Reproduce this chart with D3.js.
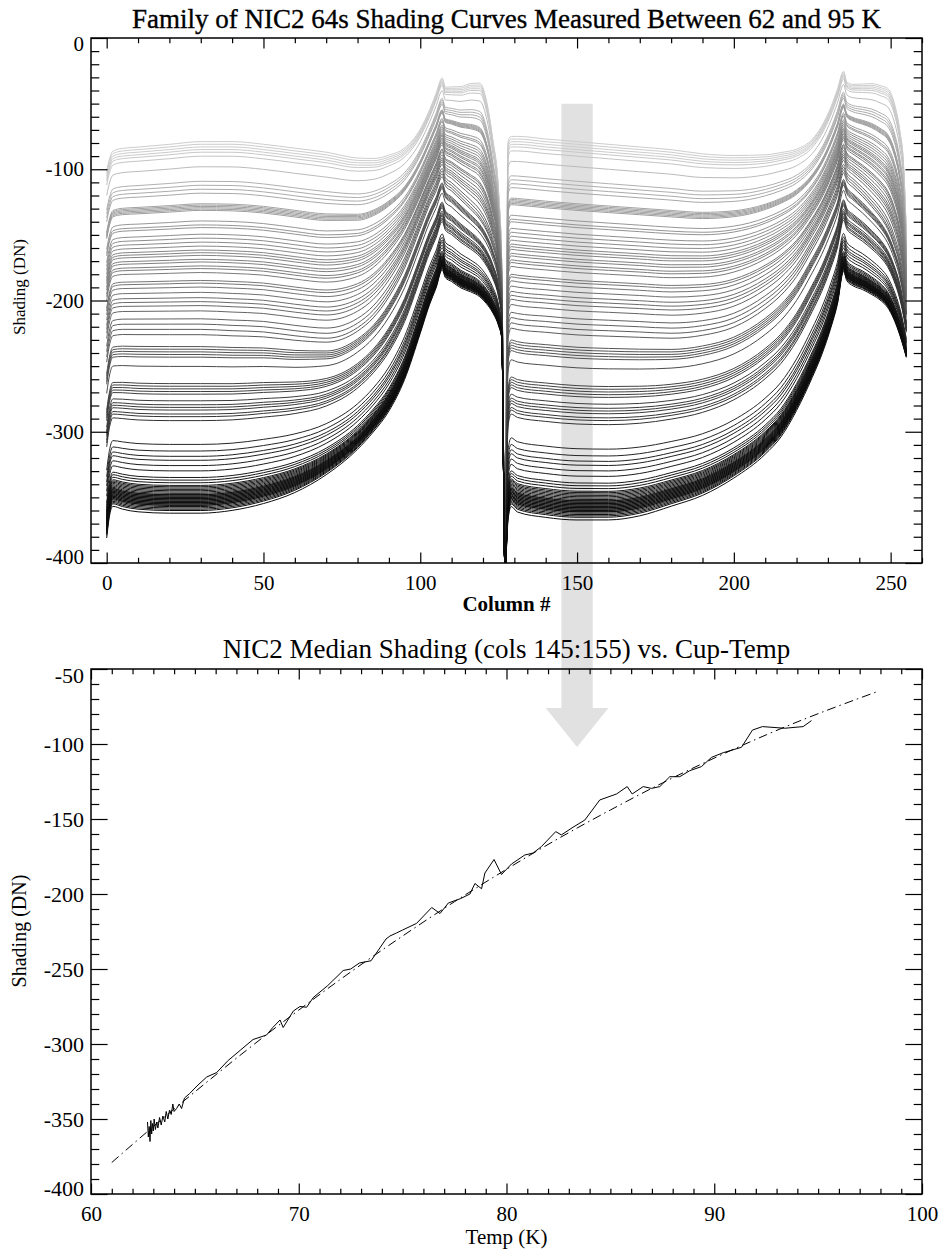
<!DOCTYPE html>
<html>
<head>
<meta charset="utf-8">
<script src="https://cdn.jsdelivr.net/npm/d3@7"></script>
<style>
body { margin: 0; background: #fff; }
text { font-family: "Liberation Serif", "Times New Roman", serif; fill: #000; }
</style>
</head>
<body>
<div id="chart"></div>
<script>
let profileCols = [0, 1, 2, 5, 10, 20, 30, 40, 50, 60, 70, 80, 85, 90, 95, 100, 103, 105, 107, 108, 110, 113, 116, 119, 121, 123, 125, 126, 127,
    128, 129, 131, 140, 150, 160, 170, 180, 190, 200, 210, 215, 220, 225, 228, 231, 233, 235, 236, 238, 241, 244, 247, 249, 251, 253, 254, 255]
// warmest (lightest) curve
let lightProfile = [-106, -96, -91, -89, -88, -86, -84, -84, -86, -89, -92, -96, -96, -93, -87, -72, -57, -45, -33, -40, -40, -40, -38, -38, -50, -78, -120, -175, -392,
    -84, -80, -80, -82, -84, -86, -88, -90, -93, -94, -93, -91, -88, -80, -70, -55, -42, -28, -36, -38, -38, -38, -40, -42, -52, -75, -95, -150]
// a curve from the middle of the family
let midProfile = [-242, -228, -222, -221, -221, -221, -221, -222, -223, -226, -228, -220, -210, -194, -172, -142, -124, -114, -103, -110, -114, -121, -128, -136, -144, -156, -176, -198, -398,
    -224, -216, -217, -219, -221, -222, -223, -224, -222, -216, -202, -192, -178, -158, -145, -129, -117, -100, -106, -111, -118, -126, -135, -143, -155, -172, -186, -205]
// coldest (darkest) curve
let darkProfile = [-376, -358, -352, -354, -356, -357, -357, -355, -350, -342, -329, -310, -297, -281, -257, -222, -200, -188, -174, -180, -183, -188, -191, -195, -200, -207, -218, -228, -405,
    -362, -352, -356, -360, -362, -362, -359, -352, -344, -331, -313, -300, -280, -255, -238, -217, -200, -175, -182, -186, -189, -193, -198, -203, -212, -225, -233, -242]
let lightLevel = -85
let midLevel = -221
let darkLevel = -356
// plateau level (cols 20-30) of every curve in the family
let curveLevels = [-80, -82, -84, -86, -88, -91, -99, -110, -113, -116, -119, -127, -128, -129, -130, -131, -132,
    -140, -143, -145, -150, -153, -156, -159, -162, -164, -166, -169, -171, -174, -176, -179,
    -185, -187, -190, -194, -198, -201, -204, -208, -214, -218, -222, -226,
    -235, -237, -239, -241, -243, -250, -263, -265, -267, -269, -271, -276, -279, -281, -283, -286, -288, -291,
    -309, -314, -318, -321, -325, -329, -334, -336, -338, -340, -341, -342, -343, -344, -345, -346, -347, -347, -348, -348,
    -349, -349, -350, -350, -351, -351, -352, -352, -353, -353, -354, -354, -355, -355, -356, -357, -358, -359, -361]

// median shading of cols 145:155 against cup temperature
let medTemp = [62.72, 62.76, 62.8, 62.84, 62.88, 62.92, 62.96, 63.0, 63.04, 63.1, 63.16, 63.22, 63.3, 63.38, 63.46, 63.55, 63.62, 63.7, 63.78, 63.86,
    63.94, 64.0, 64.12, 64.25, 64.36, 64.5, 64.75, 65.1, 65.57, 66.05, 66.6, 67.2, 67.8, 68.45, 68.75, 69.1, 69.25, 69.74, 70.06, 70.38,
    70.7, 71.4, 72.14, 72.5, 72.92, 73.48, 74.2, 74.39, 74.7, 75.0, 75.67, 76.4, 76.8, 77.2, 77.8, 78.24, 78.48, 78.8, 78.96, 79.4,
    79.76, 80.24, 80.88, 81.28, 81.68, 82.37, 82.64, 83.2, 83.77, 84.49, 85.3, 85.81, 86.05, 86.58, 86.98, 87.38, 87.86, 88.34, 88.82, 89.38,
    89.87, 90.43, 91.31, 91.84, 92.32, 93.39, 94.28, 94.68]
let medShading = [-352, -362, -355, -365, -351, -360, -353, -358, -350, -357, -352, -356, -349, -354, -348, -352, -345, -350, -344, -347,
    -340, -345, -343, -340, -343, -336, -333, -328, -322, -319, -311, -304, -297, -294, -289, -284, -289, -278, -275, -275.5,
    -269, -261, -251, -250, -246, -244.5, -230, -228, -226, -224, -219.6, -209, -213, -206, -203, -200, -193, -196.5, -186, -177,
    -187, -180, -174, -172.7, -168.4, -158.4, -160.6, -155.5, -150.7, -137.3, -133.3, -128.4, -133.3, -128.4, -129.6, -128.4, -121.8, -121.8, -117.8, -115.1,
    -108.9, -105.8, -102.2, -90.7, -88.4, -89.5, -88.4, -84.4]
// fitted curve (dash-dot)
let fitTemp = [61, 63, 65, 67.5, 70, 72.5, 75, 77.5, 80, 82.5, 85, 87.5, 90, 92.5, 95, 97.84]
let fitShading = [-379, -355, -331.9, -304, -277.4, -252, -228, -205.1, -183.5, -163, -144, -126, -109.4, -93.9, -79.8, -65.1]

let colTicks = [0, 50, 100, 150, 200, 250]
let shadeTicks = [-400, -300, -200, -100, 0]
let tempTicks = [60, 70, 80, 90, 100]
let medTicks = [-400, -350, -300, -250, -200, -150, -100, -50]

let svg = d3.select('#chart')
    .append('svg')
    .attr('width', 951)
    .attr('height', 1251)

let xTop = d3.scaleLinear().domain([-5, 260]).range([91, 922])
let yTop = d3.scaleLinear().domain([-400, 0]).range([563, 38])
let xBot = d3.scaleLinear().domain([60, 100]).range([91, 922])
let yBot = d3.scaleLinear().domain([-400, -50]).range([1194, 669])

// grey arrow from the column band down to the lower plot, behind everything
let arrowPts = [
    [xTop(145), yTop(-50)], [xTop(155), yTop(-50)], [xTop(155), yBot(-76)], [xTop(160), yBot(-76)],
    [xTop(150), yBot(-102)], [xTop(140), yBot(-76)], [xTop(145), yBot(-76)]
]
svg.append('polygon')
    .attr('points', arrowPts.map(p => p.join(',')).join(' '))
    .attr('fill', '#e1e1e1')

svg.append('clipPath').attr('id', 'clipTop')
    .append('rect')
    .attr('x', 91).attr('y', 38).attr('width', 831).attr('height', 525)

let gray = d3.scalePow().exponent(0.8).domain([0, 1]).range([205, 12]).clamp(true)
let shadeLine = d3.line()
    .x(d => xTop(d[0]))
    .y(d => yTop(d[1]))
    .curve(d3.curveMonotoneX)

// each curve sits between two of the read-off curves, by its plateau level
function profileFor(lev) {
    let a, b, f
    if (lev >= midLevel) {
        a = lightProfile; b = midProfile; f = (lev - lightLevel) / (midLevel - lightLevel)
    } else {
        a = midProfile; b = darkProfile; f = (lev - midLevel) / (darkLevel - midLevel)
    }
    return profileCols.map((c, i) => [c, a[i] + f * (b[i] - a[i])])
}

let gCurves = svg.append('g').attr('clip-path', 'url(#clipTop)')
let sorted = curveLevels.slice().sort((a, b) => b - a)
sorted.forEach(function(lev) {
    let g = Math.round(gray((lev - lightLevel) / (darkLevel - lightLevel)))
    gCurves.append('path')
        .attr('d', shadeLine(profileFor(lev)))
        .attr('fill', 'none')
        .attr('stroke', 'rgb(' + g + ',' + g + ',' + g + ')')
        .attr('stroke-width', 1)
})

// lower plot lines
let medLine = d3.line()
    .x((d, i) => xBot(medTemp[i]))
    .y(d => yBot(d))
svg.append('path')
    .attr('d', medLine(medShading))
    .attr('fill', 'none')
    .attr('stroke', '#000')
    .attr('stroke-width', 1)

let fitLine = d3.line()
    .x((d, i) => xBot(fitTemp[i]))
    .y(d => yBot(d))
    .curve(d3.curveNatural)
svg.append('path')
    .attr('d', fitLine(fitShading))
    .attr('fill', 'none')
    .attr('stroke', '#000')
    .attr('stroke-width', 1)
    .attr('stroke-dasharray', '9,4,1.5,4')

// IDL style box with inward ticks on all four sides
function drawAxes(x, y, xMajor, xStep, yMajor, yStep, xFont, yFont, xPad) {
    let [x0, x1] = x.range()
    let [y0, y1] = y.range()
    let xLen = (y0 - y1) * 0.02
    let yLen = (x1 - x0) * 0.02
    let xd = x.domain(), yd = y.domain()
    let xMinor = d3.range(Math.ceil(xd[0] / xStep) * xStep, xd[1] + 0.001, xStep).filter(v => xMajor.indexOf(v) < 0)
    let yMinor = d3.range(Math.ceil(yd[0] / yStep) * yStep, yd[1] + 0.001, yStep).filter(v => yMajor.indexOf(v) < 0)

    let style = function(g) {
        g.select('.domain').remove()
        g.selectAll('line').attr('stroke', '#000').attr('stroke-width', 1.2)
        g.attr('font-family', null).attr('font-size', null)
    }

    let bottom = svg.append('g').attr('transform', 'translate(0,' + y0 + ')')
    bottom.append('g').call(d3.axisBottom(x).tickValues(xMajor).tickSize(-xLen).tickPadding(xPad).tickFormat(d => String(d))).call(style)
        .selectAll('text').attr('font-size', xFont)
    bottom.append('g').call(d3.axisBottom(x).tickValues(xMinor).tickSize(-xLen / 2).tickFormat('')).call(style)

    let top = svg.append('g').attr('transform', 'translate(0,' + y1 + ')')
    top.append('g').call(d3.axisTop(x).tickValues(xMajor).tickSize(-xLen).tickFormat('')).call(style)
    top.append('g').call(d3.axisTop(x).tickValues(xMinor).tickSize(-xLen / 2).tickFormat('')).call(style)

    let left = svg.append('g').attr('transform', 'translate(' + x0 + ',0)')
    left.append('g').call(d3.axisLeft(y).tickValues(yMajor).tickSize(-yLen).tickPadding(7).tickFormat(d => String(d))).call(style)
        .selectAll('text')
        .attr('font-size', yFont)
        .attr('y', d => d === yd[0] ? -6 : (d === yd[1] ? 6 : 0))
    left.append('g').call(d3.axisLeft(y).tickValues(yMinor).tickSize(-yLen / 2).tickFormat('')).call(style)

    let right = svg.append('g').attr('transform', 'translate(' + x1 + ',0)')
    right.append('g').call(d3.axisRight(y).tickValues(yMajor).tickSize(-yLen).tickFormat('')).call(style)
    right.append('g').call(d3.axisRight(y).tickValues(yMinor).tickSize(-yLen / 2).tickFormat('')).call(style)

    svg.append('rect')
        .attr('x', x0).attr('y', y1)
        .attr('width', x1 - x0).attr('height', y0 - y1)
        .attr('fill', 'none')
        .attr('stroke', '#000')
        .attr('stroke-width', 1.5)
}

drawAxes(xTop, yTop, colTicks, 10, shadeTicks, 10, 21, 21, 12)
drawAxes(xBot, yBot, tempTicks, 1, medTicks, 10, 21, 22, 11.6)

// titles and axis names
svg.append('text')
    .attr('x', 506.5).attr('y', 28)
    .attr('text-anchor', 'middle')
    .attr('font-size', 27)
    .attr('stroke', '#000')
    .attr('stroke-width', 0.35)
    .text('Family of NIC2 64s Shading Curves Measured Between 62 and 95 K')
svg.append('text')
    .attr('x', 506.5).attr('y', 611)
    .attr('text-anchor', 'middle')
    .attr('font-size', 21)
    .attr('font-weight', 'bold')
    .text('Column #')
svg.append('text')
    .attr('transform', 'translate(24.5,287) rotate(-90)')
    .attr('text-anchor', 'middle')
    .attr('font-size', 17)
    .text('Shading (DN)')

svg.append('text')
    .attr('x', 506.5).attr('y', 658)
    .attr('text-anchor', 'middle')
    .attr('font-size', 27)
    .text('NIC2 Median Shading (cols 145:155) vs. Cup-Temp')
svg.append('text')
    .attr('x', 506.5).attr('y', 1244)
    .attr('text-anchor', 'middle')
    .attr('font-size', 21)
    .text('Temp (K)')
svg.append('text')
    .attr('transform', 'translate(26,931) rotate(-90)')
    .attr('text-anchor', 'middle')
    .attr('font-size', 20)
    .text('Shading (DN)')
</script>
</body>
</html>
